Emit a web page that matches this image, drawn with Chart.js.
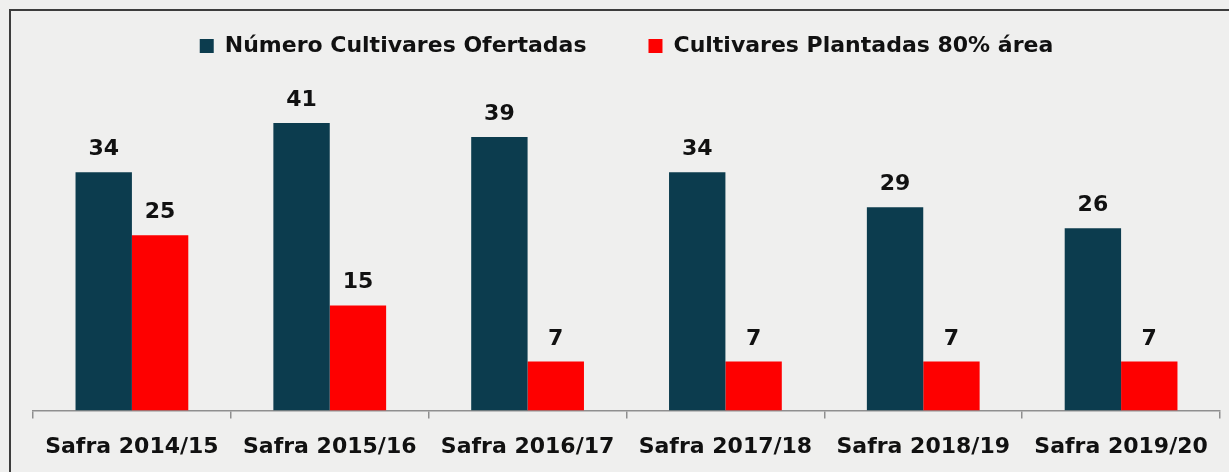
<!DOCTYPE html>
<html>
<head>
<meta charset="utf-8">
<script src="https://cdn.jsdelivr.net/npm/chart.js@4.4.1/dist/chart.umd.min.js"></script>
<style>
  html, body { margin: 0; padding: 0; }
  body { width: 1229px; height: 472px; background: #efefee; overflow: hidden; position: relative; }
  #frame { position: absolute; left: 9px; top: 9px; width: 1240px; height: 480px;
           border-top: 2px solid #3c3c3c; border-left: 2px solid #3c3c3c; box-sizing: border-box; }
  #wrap { position: absolute; left: 0; top: -27px; width: 1229px; height: 509px; }
</style>
</head>
<body>
<div id="frame"></div>
<div id="wrap"><canvas id="c" width="1229" height="509"></canvas></div>
<script>
const categories = ["Safra 2014/15", "Safra 2015/16", "Safra 2016/17", "Safra 2017/18", "Safra 2018/19", "Safra 2019/20"];
const seriesNames = ["Número Cultivares Ofertadas", "Cultivares Plantadas 80% área"];
const ofertadas = [34, 41, 39, 34, 29, 26];
const plantadas = [25, 15, 7, 7, 7, 7];

const FONT = '"DejaVu Sans", "Open Sans", sans-serif';

const valueLabels = {
  id: 'valueLabels',
  afterDatasetsDraw(chart) {
    const ctx = chart.ctx;
    ctx.save();
    ctx.font = 'bold 22px ' + FONT;
    ctx.fillStyle = '#111';
    ctx.textAlign = 'center';
    ctx.textBaseline = 'alphabetic';
    chart.data.datasets.forEach((ds, i) => {
      const meta = chart.getDatasetMeta(i);
      meta.data.forEach((bar, j) => {
        ctx.fillText(String(ds.data[j]), bar.x, bar.y - 17);
      });
    });
    ctx.restore();
  }
};

new Chart(document.getElementById('c'), {
  type: 'bar',
  data: {
    labels: categories,
    datasets: [
      { label: seriesNames[0], data: ofertadas, backgroundColor: '#0c3c4e' },
      { label: seriesNames[1], data: plantadas, backgroundColor: '#fe0000' }
    ]
  },
  options: {
    responsive: false,
    animation: false,
    devicePixelRatio: 1,
    layout: { padding: { left: 33, right: 9, top: 0, bottom: 7 } },
    datasets: { bar: { categoryPercentage: 0.57, barPercentage: 1.0 } },
    plugins: {
      tooltip: { enabled: false },
      legend: {
        position: 'top',
        align: 'center',
        labels: {
          boxWidth: 14, boxHeight: 14, padding: 62,
          color: '#111',
          font: { family: FONT, size: 22, weight: 'bold' }
        }
      }
    },
    scales: {
      x: {
        grid: { display: true, drawOnChartArea: false, drawTicks: true, tickLength: 8, color: '#8f8f8f', lineWidth: 1.5 },
        border: { display: true, color: '#8f8f8f', width: 1.5 },
        ticks: { color: '#111', padding: 15, font: { family: FONT, size: 22, weight: 'bold' } }
      },
      y: {
        display: false,
        min: 0, max: 49
      }
    }
  },
  plugins: [valueLabels]
});
</script>
</body>
</html>
